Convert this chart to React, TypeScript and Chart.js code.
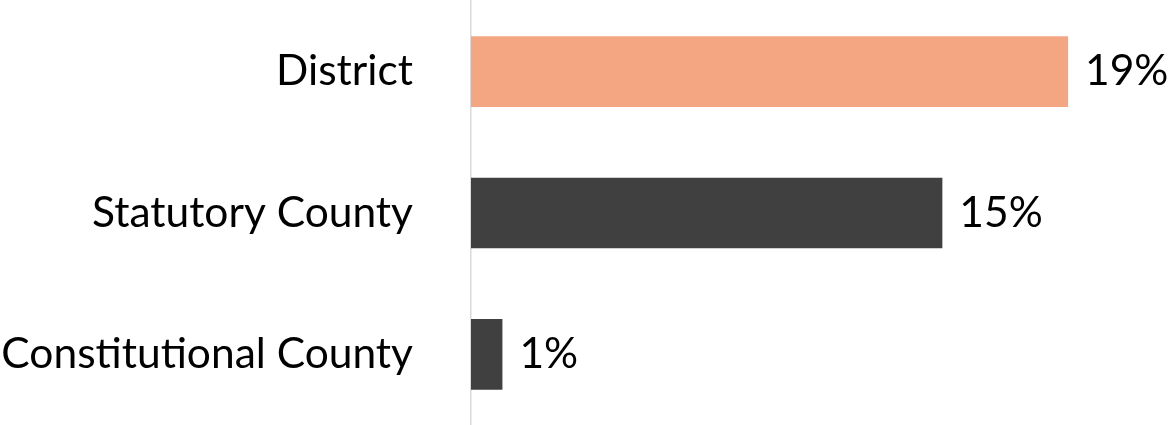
import React, { useEffect, useRef } from "react";
import { Chart, registerables } from "chart.js";

Chart.register(...registerables);

const categories = ["District", "Statutory County", "Constitutional County"];
const values = [19, 15, 1];
const barColors = ["#F4A683", "#404040", "#404040"];
const valueSuffix = "%";

const FONT_FAMILY = "Lato, 'Open Sans', sans-serif";
const FONT_SIZE = 42.5;

const valueLabelPlugin = {
  id: "valueLabels",
  afterDatasetsDraw(chart: any) {
    const { ctx } = chart;
    const meta = chart.getDatasetMeta(0);
    ctx.save();
    ctx.font = `${FONT_SIZE}px ${FONT_FAMILY}`;
    ctx.fillStyle = "#000000";
    ctx.textAlign = "left";
    ctx.textBaseline = "middle";
    meta.data.forEach((bar: any, i: number) => {
      ctx.fillText(`${values[i]}${valueSuffix}`, bar.x + 17, bar.y);
    });
    ctx.restore();
  },
};

export default function App() {
  const canvasRef = useRef<HTMLCanvasElement | null>(null);

  useEffect(() => {
    if (!canvasRef.current) return;
    const chart = new Chart(canvasRef.current, {
      type: "bar",
      data: {
        labels: categories,
        datasets: [
          {
            data: values,
            backgroundColor: barColors,
            borderWidth: 0,
            categoryPercentage: 1,
            barPercentage: 0.5,
          },
        ],
      },
      plugins: [valueLabelPlugin],
      options: {
        indexAxis: "y",
        animation: false,
        responsive: false,
        maintainAspectRatio: false,
        layout: { padding: { top: 1, bottom: 0, left: 0, right: 0 } },
        plugins: {
          legend: { display: false },
          tooltip: { enabled: false },
        },
        scales: {
          x: {
            display: false,
            min: 0,
            max: 22.18,
          },
          y: {
            afterFit(scale: any) {
              scale.width = 471;
              scale.paddingTop = 0;
              scale.paddingBottom = 0;
            },
            grid: { display: false, drawTicks: false },
            border: { display: true, color: "#D9D9D9", width: 1.5 },
            ticks: {
              padding: 58,
              color: "#000000",
              font: { family: FONT_FAMILY, size: FONT_SIZE },
            },
          },
        },
      },
    });
    return () => chart.destroy();
  }, []);

  return (
    <div style={{ position: "fixed", left: 0, top: 0, width: 1168, height: 425, background: "#fff" }}>
      <canvas ref={canvasRef} width={1168} height={425} style={{ display: "block" }} />
    </div>
  );
}
